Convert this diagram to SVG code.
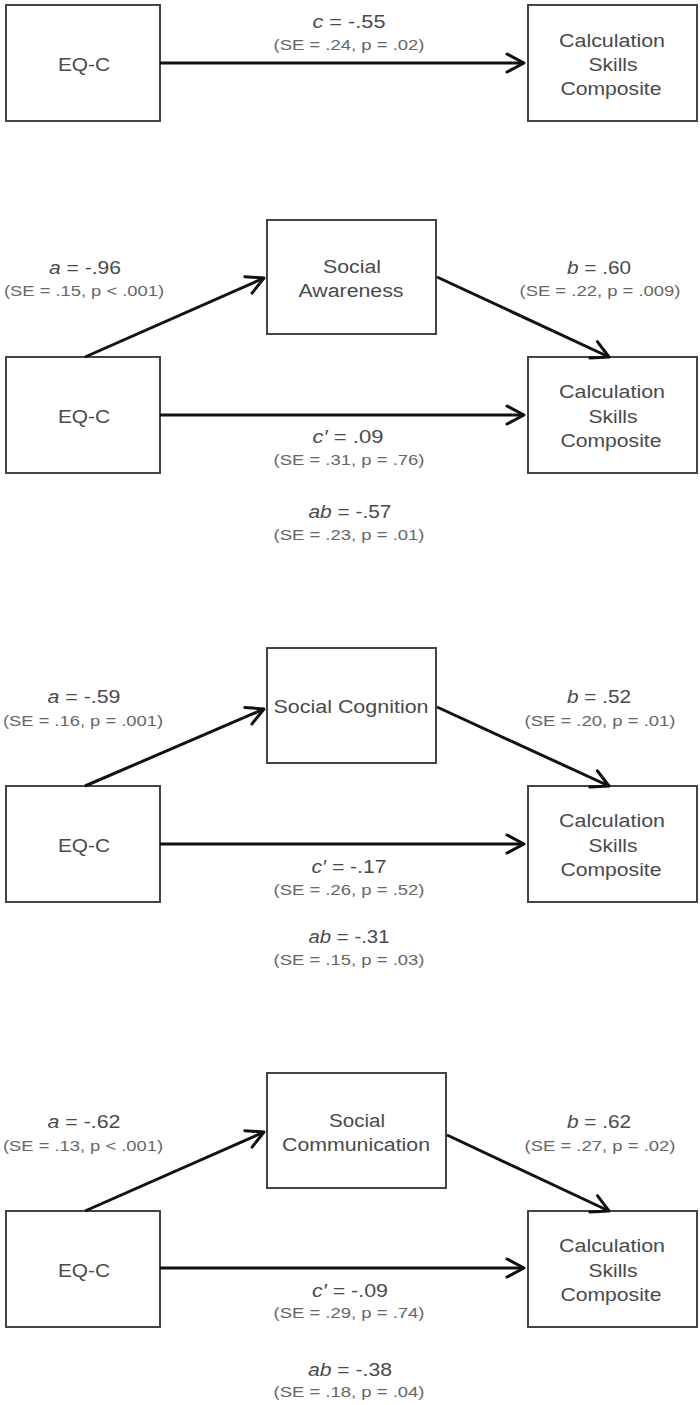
<svg xmlns="http://www.w3.org/2000/svg" width="700" height="1405" viewBox="0 0 700 1405">
<style>
.box{fill:#fff;stroke:#444;stroke-width:2}
.lbl{font-family:"Liberation Sans",Arial,sans-serif;font-size:18px;fill:#4a4a4a;text-anchor:middle}
.sm{font-family:"Liberation Sans",Arial,sans-serif;font-size:15px;fill:#666;text-anchor:middle}
.it{font-style:italic}
.con{stroke:#111;stroke-width:3;fill:none;marker-end:url(#ah)}
</style>
<defs>
<marker id="ah" viewBox="0 0 22 22" refX="20" refY="11" markerWidth="22" markerHeight="22" markerUnits="userSpaceOnUse" orient="auto">
<path d="M3,2 L20,11 L3,20" fill="none" stroke="#111" stroke-width="3" stroke-linejoin="round" stroke-linecap="round"/>
</marker>
</defs>
<rect width="700" height="1405" fill="#fff"/>

<!-- Panel 1 -->
<g id="p1-eqc"><rect class="box" x="6" y="5" width="154" height="116"/><text class="lbl" x="84" y="71" textLength="52" lengthAdjust="spacingAndGlyphs">EQ-C</text></g>
<g id="p1-calc"><rect class="box" x="528" y="5" width="169" height="116"/>
<text class="lbl" x="612" y="47" textLength="106" lengthAdjust="spacingAndGlyphs">Calculation</text>
<text class="lbl" x="613" y="71" textLength="49" lengthAdjust="spacingAndGlyphs">Skills</text>
<text class="lbl" x="611" y="95" textLength="101" lengthAdjust="spacingAndGlyphs">Composite</text></g>

<!-- Panel 2 -->
<g id="p2-eqc"><rect class="box" x="6" y="357" width="154" height="116"/><text class="lbl" x="84" y="423" textLength="52" lengthAdjust="spacingAndGlyphs">EQ-C</text></g>
<g id="p2-med"><rect class="box" x="267" y="220" width="169" height="114"/>
<text class="lbl" x="352" y="273" textLength="58" lengthAdjust="spacingAndGlyphs">Social</text>
<text class="lbl" x="351" y="297" textLength="105" lengthAdjust="spacingAndGlyphs">Awareness</text></g>
<g id="p2-calc"><rect class="box" x="528" y="357" width="169" height="116"/>
<text class="lbl" x="612" y="398" textLength="106" lengthAdjust="spacingAndGlyphs">Calculation</text>
<text class="lbl" x="613" y="423" textLength="49" lengthAdjust="spacingAndGlyphs">Skills</text>
<text class="lbl" x="611" y="447" textLength="101" lengthAdjust="spacingAndGlyphs">Composite</text></g>

<!-- Panel 3 -->
<g id="p3-eqc"><rect class="box" x="6" y="786" width="154" height="116"/><text class="lbl" x="84" y="852" textLength="52" lengthAdjust="spacingAndGlyphs">EQ-C</text></g>
<g id="p3-med"><rect class="box" x="267" y="648" width="169" height="115"/>
<text class="lbl" x="351" y="713" textLength="155" lengthAdjust="spacingAndGlyphs">Social Cognition</text></g>
<g id="p3-calc"><rect class="box" x="528" y="786" width="169" height="116"/>
<text class="lbl" x="612" y="827" textLength="106" lengthAdjust="spacingAndGlyphs">Calculation</text>
<text class="lbl" x="613" y="852" textLength="49" lengthAdjust="spacingAndGlyphs">Skills</text>
<text class="lbl" x="611" y="876" textLength="101" lengthAdjust="spacingAndGlyphs">Composite</text></g>

<!-- Panel 4 -->
<g id="p4-eqc"><rect class="box" x="6" y="1211" width="154" height="116"/><text class="lbl" x="84" y="1277" textLength="52" lengthAdjust="spacingAndGlyphs">EQ-C</text></g>
<g id="p4-med"><rect class="box" x="267" y="1073" width="179" height="115"/>
<text class="lbl" x="357" y="1127" textLength="56" lengthAdjust="spacingAndGlyphs">Social</text>
<text class="lbl" x="356" y="1151" textLength="148" lengthAdjust="spacingAndGlyphs">Communication</text></g>
<g id="p4-calc"><rect class="box" x="528" y="1211" width="169" height="116"/>
<text class="lbl" x="612" y="1252" textLength="106" lengthAdjust="spacingAndGlyphs">Calculation</text>
<text class="lbl" x="613" y="1277" textLength="49" lengthAdjust="spacingAndGlyphs">Skills</text>
<text class="lbl" x="611" y="1301" textLength="101" lengthAdjust="spacingAndGlyphs">Composite</text></g>

<g id="connectors">
<line class="con" x1="160" y1="63" x2="524" y2="63"/>
<line class="con" x1="160" y1="415" x2="524" y2="415"/>
<line class="con" x1="85" y1="357" x2="264" y2="278"/>
<line class="con" x1="437" y1="277" x2="609" y2="357"/>
<line class="con" x1="160" y1="844" x2="524" y2="844"/>
<line class="con" x1="85" y1="786" x2="264" y2="709"/>
<line class="con" x1="437" y1="707" x2="609" y2="786"/>
<line class="con" x1="160" y1="1268" x2="524" y2="1268"/>
<line class="con" x1="85" y1="1211" x2="264" y2="1132"/>
<line class="con" x1="447" y1="1135" x2="609" y2="1211"/>
</g>

<g id="labels">
<text class="lbl" x="349" y="28" textLength="73" lengthAdjust="spacingAndGlyphs"><tspan class="it">c</tspan> = -.55</text>
<text class="sm" x="349" y="50" textLength="151" lengthAdjust="spacingAndGlyphs">(SE = .24, p = .02)</text>

<text class="lbl" x="85" y="274" textLength="72" lengthAdjust="spacingAndGlyphs"><tspan class="it">a</tspan> = -.96</text>
<text class="sm" x="84" y="296" textLength="160" lengthAdjust="spacingAndGlyphs">(SE = .15, p &lt; .001)</text>
<text class="lbl" x="599" y="274" textLength="64" lengthAdjust="spacingAndGlyphs"><tspan class="it">b</tspan> = .60</text>
<text class="sm" x="600" y="296" textLength="161" lengthAdjust="spacingAndGlyphs">(SE = .22, p = .009)</text>
<text class="lbl" x="348" y="443" textLength="71" lengthAdjust="spacingAndGlyphs"><tspan class="it">c′</tspan> = .09</text>
<text class="sm" x="349" y="465" textLength="151" lengthAdjust="spacingAndGlyphs">(SE = .31, p = .76)</text>
<text class="lbl" x="350" y="518" textLength="83" lengthAdjust="spacingAndGlyphs"><tspan class="it">ab</tspan> = -.57</text>
<text class="sm" x="349" y="540" textLength="151" lengthAdjust="spacingAndGlyphs">(SE = .23, p = .01)</text>

<text class="lbl" x="84" y="703" textLength="73" lengthAdjust="spacingAndGlyphs"><tspan class="it">a</tspan> = -.59</text>
<text class="sm" x="83" y="726" textLength="160" lengthAdjust="spacingAndGlyphs">(SE = .16, p = .001)</text>
<text class="lbl" x="599" y="703" textLength="64" lengthAdjust="spacingAndGlyphs"><tspan class="it">b</tspan> = .52</text>
<text class="sm" x="600" y="726" textLength="151" lengthAdjust="spacingAndGlyphs">(SE = .20, p = .01)</text>
<text class="lbl" x="349" y="873" textLength="75" lengthAdjust="spacingAndGlyphs"><tspan class="it">c′</tspan> = -.17</text>
<text class="sm" x="349" y="895" textLength="151" lengthAdjust="spacingAndGlyphs">(SE = .26, p = .52)</text>
<text class="lbl" x="349" y="943" textLength="81" lengthAdjust="spacingAndGlyphs"><tspan class="it">ab</tspan> = -.31</text>
<text class="sm" x="349" y="965" textLength="151" lengthAdjust="spacingAndGlyphs">(SE = .15, p = .03)</text>

<text class="lbl" x="84" y="1128" textLength="73" lengthAdjust="spacingAndGlyphs"><tspan class="it">a</tspan> = -.62</text>
<text class="sm" x="83" y="1151" textLength="160" lengthAdjust="spacingAndGlyphs">(SE = .13, p &lt; .001)</text>
<text class="lbl" x="599" y="1128" textLength="64" lengthAdjust="spacingAndGlyphs"><tspan class="it">b</tspan> = .62</text>
<text class="sm" x="600" y="1151" textLength="151" lengthAdjust="spacingAndGlyphs">(SE = .27, p = .02)</text>
<text class="lbl" x="350" y="1297" textLength="76" lengthAdjust="spacingAndGlyphs"><tspan class="it">c′</tspan> = -.09</text>
<text class="sm" x="349" y="1318" textLength="151" lengthAdjust="spacingAndGlyphs">(SE = .29, p = .74)</text>
<text class="lbl" x="350" y="1376" textLength="84" lengthAdjust="spacingAndGlyphs"><tspan class="it">ab</tspan> = -.38</text>
<text class="sm" x="349" y="1397" textLength="151" lengthAdjust="spacingAndGlyphs">(SE = .18, p = .04)</text>
</g>
</svg>
